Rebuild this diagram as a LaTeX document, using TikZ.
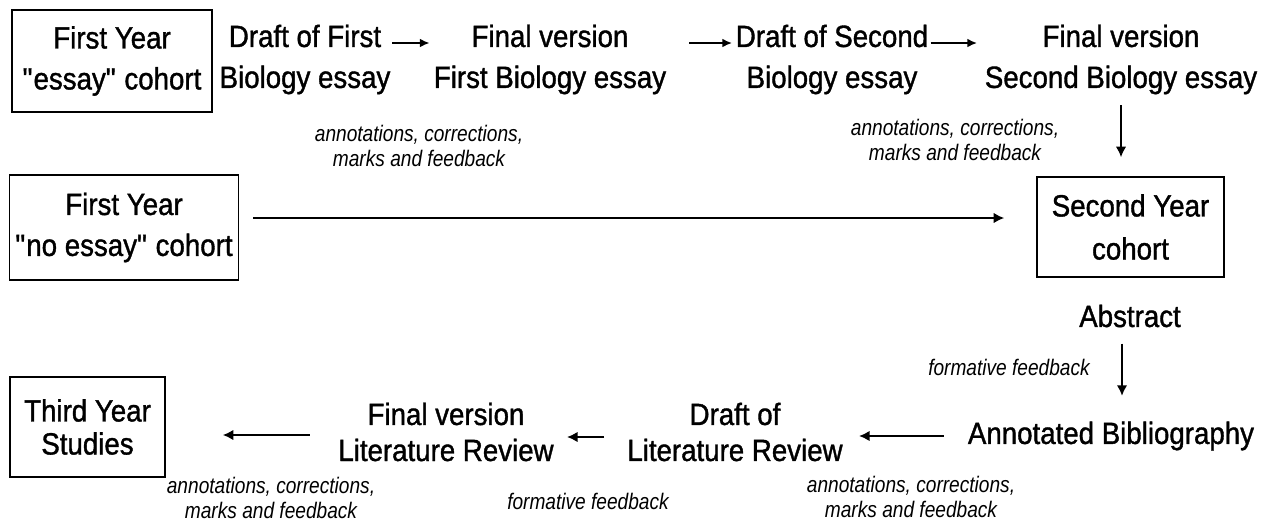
\documentclass[tikz,border=0pt]{standalone}
\usepackage{fontspec}
\setmainfont{Liberation Sans}
\newfontfamily\stagesans[FakeStretch=0.9,FakeBold=1.2]{Liberation Sans}
\newfontfamily\narrowsans[FakeStretch=0.85]{Liberation Sans}
\usetikzlibrary{arrows.meta}
\newcommand\stagefont[1]{\stagesans\fontsize{17.5}{#1}\selectfont}
\newcommand\notefont{\narrowsans\itshape\fontsize{12.8}{14.2}\selectfont}
\newcommand\qq{\textquotedbl}
\begin{document}
\begin{tikzpicture}[x=0.02cm,y=-0.02cm,
  stage/.style={align=center,inner sep=0pt,font=\stagefont{23.3pt}},
  cohort/.style={draw,line width=0.9pt,align=center,font=\stagefont{23.3pt}},
  note/.style={align=center,inner sep=0pt,font=\notefont},
  flow/.style={line width=1.1pt,-{Latex[length=6pt,width=6pt]}},
  tick/.style={line width=1pt,-{Latex[length=5.5pt,width=5pt]}}]
\useasboundingbox (0,0) rectangle (1270,524);
%top row
\node[cohort,minimum width=4cm,minimum height=2.04cm] (essay) at (112,61) {First Year\\\qq essay\qq\ cohort};
\node[stage] (dr1) at (305,59.5) {Draft of First\\Biology essay};
\node[stage] (fv1) at (550,59.5) {Final version\\First Biology essay};
\node[stage] (dr2) at (832,59.5) {Draft of Second\\Biology essay};
\node[stage] (fv2) at (1121,59.5) {Final version\\Second Biology essay};
\node[note] (n1) at (419,146) {annotations, corrections,\\marks and feedback};
\node[note] (n2) at (955,140) {annotations, corrections,\\marks and feedback};
\draw[tick] ([xshift=0.03cm,yshift=0.33cm]dr1.east) -- ([xshift=-0.08cm,yshift=0.33cm]fv1.west);
\draw[tick] ([xshift=0.46cm,yshift=0.33cm]fv1.east) -- ([xshift=-0.07cm,yshift=0.33cm]dr2.west);
\draw[tick] ([xshift=0.04cm,yshift=0.33cm]dr2.east) -- ([xshift=-0.15cm,yshift=0.33cm]fv2.west);
%middle row
\node[cohort,minimum width=4.56cm,minimum height=2.1cm] (noessay) at (124,227.5) {First Year\\\qq no essay\qq\ cohort};
\node[cohort,minimum width=3.74cm,minimum height=2cm,font=\stagefont{24.5pt}] (sec) at (1130.5,227) {Second Year\\cohort};
\draw[flow,shorten <=0.21cm,shorten >=0.38cm] (fv2.south) -- (fv2.south |- sec.north);
\draw[flow,shorten <=0.28cm,shorten >=0.64cm] ([yshift=0.19cm]noessay.east) -- ([yshift=0.19cm]noessay.east -| sec.west);
\node[stage] (abs) at (1130,316) {Abstract};
%bottom row
\node[note] (n3) at (1009,367) {formative feedback};
\node[stage] (ab) at (1111,436) {Annotated Bibliography};
\node[stage,font=\stagefont{20.5pt}] (dlr) at (735,432) {Draft of\\Literature Review};
\node[stage,font=\stagefont{20.5pt}] (fvl) at (446,432) {Final version\\Literature Review};
\node[cohort,minimum width=3.1cm,minimum height=2cm,font=\stagefont{18.8pt}] (third) at (87.5,427) {Third Year\\Studies};
\node[note] (n4) at (271,498) {annotations, corrections,\\marks and feedback};
\node[note] (n5) at (588,501) {formative feedback};
\node[note] (n6) at (911,497) {annotations, corrections,\\marks and feedback};
\draw[flow,shorten <=0.32cm,shorten >=0.51cm] ([xshift=-0.16cm]abs.south) -- ([xshift=-0.16cm]abs.south |- ab.north);
\draw[flow,shorten <=0.48cm,shorten >=0.32cm] (ab.west) -- (ab.west -| dlr.east);
\draw[flow,shorten <=0.46cm,shorten >=0.26cm] ([yshift=-0.1cm]dlr.west) -- ([yshift=-0.1cm]dlr.west -| fvl.east);
\draw[flow,shorten <=0.56cm,shorten >=1.14cm] ([yshift=-0.06cm]fvl.west) -- ([yshift=-0.06cm]fvl.west -| third.east);
\end{tikzpicture}
\end{document}
